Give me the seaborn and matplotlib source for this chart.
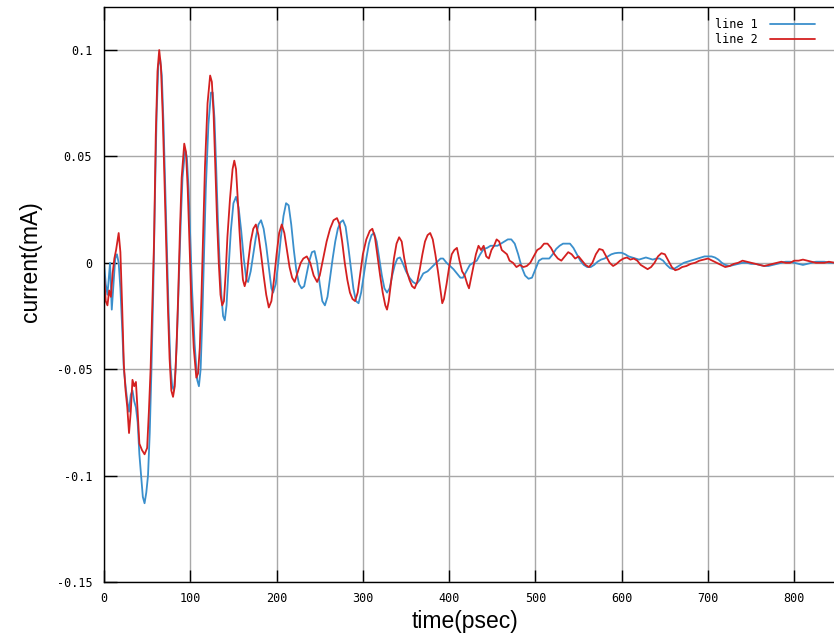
import pandas as pd
import numpy as np
import matplotlib
matplotlib.use("Agg")
import matplotlib.pyplot as plt
import seaborn as sns

# Data (time in psec, current in mA)
T1 = [0, 2, 4, 6, 7, 9, 11, 13, 15, 17, 19, 21, 23, 25, 27, 29, 31, 33, 35, 37,
      39, 41, 43, 45, 47, 49, 51, 53, 55, 57, 59, 61, 63, 65, 67, 69, 71, 73, 75, 77,
      79, 81, 83, 85, 87, 89, 91, 94, 96, 98, 100, 102, 105, 108, 110, 112, 114, 116, 118, 121,
      124, 126, 128, 130, 132, 134, 136, 138, 140, 142, 144, 147, 150, 153, 156, 159, 162, 165, 167, 170,
      173, 176, 179, 182, 185, 188, 191, 194, 196, 199, 202, 205, 208, 211, 214, 217, 220, 223, 226, 229,
      232, 235, 238, 241, 244, 247, 250, 253, 256, 259, 262, 265, 268, 271, 274, 277, 280, 283, 286, 289,
      292, 295, 298, 301, 304, 307, 310, 313, 316, 319, 322, 325, 328, 331, 334, 337, 340, 343, 346, 350,
      354, 358, 362, 366, 370, 375, 380, 385, 390, 393, 397, 401, 405, 409, 413, 416, 420, 424, 428, 432,
      436, 440, 444, 448, 452, 456, 460, 464, 468, 472, 476, 480, 484, 488, 492, 496, 500, 504, 508, 512,
      516, 520, 524, 528, 532, 536, 540, 544, 548, 552, 556, 560, 564, 568, 572, 576, 580, 584, 588, 592,
      596, 600, 604, 608, 612, 616, 620, 624, 628, 632, 636, 640, 644, 648, 652, 656, 660, 664, 668, 672,
      676, 680, 684, 688, 692, 696, 700, 704, 708, 712, 716, 720, 725, 730, 735, 740, 745, 750, 755, 760,
      765, 770, 775, 780, 785, 790, 795, 800, 805, 810, 815, 820, 825, 830, 835, 840, 847]
I1 = [0.0, -0.01, -0.015, -0.005, 0.0, -0.022, -0.01, 0.002, 0.004, 0.0, -0.012, -0.03, -0.05, -0.058, -0.065, -0.07, -0.062, -0.06, -0.065, -0.068,
      -0.075, -0.09, -0.1, -0.11, -0.113, -0.108, -0.1, -0.08, -0.05, -0.015, 0.03, 0.07, 0.093, 0.096, 0.088, 0.065, 0.035, 0.005, -0.025, -0.048,
      -0.058, -0.06, -0.05, -0.03, -0.005, 0.02, 0.04, 0.053, 0.05, 0.035, 0.012, -0.012, -0.038, -0.055, -0.058, -0.05, -0.025, 0.005, 0.035, 0.065,
      0.08, 0.08, 0.068, 0.045, 0.02, 0.0, -0.015, -0.025, -0.027, -0.02, -0.005, 0.015, 0.028, 0.031, 0.026, 0.015, 0.002, -0.008, -0.009, -0.004,
      0.004, 0.012, 0.018, 0.02, 0.016, 0.008, -0.002, -0.012, -0.014, -0.01, 0.0, 0.012, 0.022, 0.028, 0.027, 0.018, 0.006, -0.004, -0.01, -0.012,
      -0.011, -0.005, 0.001, 0.005, 0.0055, 0.0, -0.01, -0.018, -0.02, -0.016, -0.007, 0.002, 0.01, 0.016, 0.019, 0.02, 0.017, 0.008, -0.002, -0.012,
      -0.018, -0.019, -0.014, -0.006, 0.002, 0.009, 0.013, 0.014, 0.01, 0.002, -0.006, -0.012, -0.014, -0.012, -0.006, -0.001, 0.002, 0.0025, 0.0, -0.004,
      -0.007, -0.009, -0.01, -0.008, -0.005, -0.004, -0.002, 0.0, 0.002, 0.002, 0.0, -0.0015, -0.003, -0.005, -0.007, -0.007, -0.004, -0.001, 0.0, 0.001,
      0.004, 0.0065, 0.007, 0.008, 0.008, 0.008, 0.009, 0.01, 0.011, 0.011, 0.009, 0.004, -0.002, -0.006, -0.0075, -0.007, -0.003, 0.001, 0.002, 0.002,
      0.002, 0.004, 0.0065, 0.008, 0.009, 0.009, 0.009, 0.007, 0.004, 0.001, -0.001, -0.002, -0.002, -0.001, 0.0005, 0.0015, 0.002, 0.003, 0.004, 0.0045,
      0.0047, 0.0047, 0.004, 0.003, 0.0025, 0.002, 0.0015, 0.002, 0.0025, 0.002, 0.0015, 0.002, 0.002, 0.001, -0.001, -0.0025, -0.003, -0.002, -0.001, 0.0,
      0.0005, 0.001, 0.0015, 0.002, 0.0025, 0.003, 0.003, 0.003, 0.0025, 0.0015, 0.0, -0.001, -0.0015, -0.001, -0.0005, 0.0, 0.0, -0.0005, -0.0005, -0.001,
      -0.0015, -0.0015, -0.001, -0.0005, 0.0, 0.0005, 0.0005, 0.0, -0.0005, -0.001, -0.0005, 0.0, 0.0005, 0.0005, 0.0005, 0.0, 0.0]

T2 = [0, 2, 4, 6, 8, 10, 12, 14, 17, 19, 21, 23, 25, 27, 29, 31, 33, 35, 37, 39,
      41, 44, 47, 50, 52, 54, 56, 58, 60, 62, 64, 66, 68, 70, 72, 74, 76, 78, 80, 82,
      84, 86, 88, 90, 93, 95, 97, 99, 101, 104, 107, 109, 111, 113, 115, 117, 120, 123, 125, 127,
      129, 131, 133, 135, 137, 139, 141, 143, 146, 149, 151, 153, 155, 157, 159, 161, 163, 165, 167, 170,
      173, 176, 179, 182, 185, 188, 191, 194, 197, 200, 203, 206, 209, 212, 215, 218, 221, 224, 228, 231,
      235, 239, 243, 247, 250, 254, 258, 262, 266, 270, 273, 276, 279, 282, 285, 288, 291, 294, 297, 300,
      304, 308, 311, 314, 317, 320, 323, 326, 328, 330, 333, 336, 339, 342, 345, 348, 351, 354, 357, 360,
      363, 366, 369, 372, 375, 378, 381, 384, 387, 390, 392, 394, 397, 400, 403, 406, 409, 412, 415, 418,
      421, 423, 425, 428, 431, 434, 437, 440, 443, 446, 449, 452, 455, 458, 461, 464, 467, 470, 474, 478,
      482, 486, 490, 494, 498, 502, 506, 510, 514, 518, 522, 526, 530, 534, 538, 542, 546, 550, 554, 558,
      562, 566, 570, 574, 578, 582, 586, 590, 594, 598, 602, 606, 610, 614, 618, 622, 626, 630, 634, 638,
      642, 646, 650, 654, 658, 662, 666, 670, 675, 680, 685, 690, 695, 700, 705, 710, 715, 720, 725, 730,
      735, 740, 745, 750, 755, 760, 765, 770, 775, 780, 785, 790, 795, 800, 805, 810, 815, 820, 825, 830,
      835, 840, 847]
I2 = [-0.005, -0.018, -0.02, -0.013, -0.016, -0.005, 0.002, 0.006, 0.014, 0.005, -0.02, -0.048, -0.06, -0.068, -0.08, -0.07, -0.055, -0.058, -0.056, -0.07,
      -0.085, -0.088, -0.09, -0.087, -0.07, -0.05, -0.02, 0.01, 0.06, 0.09, 0.1, 0.092, 0.07, 0.04, 0.01, -0.02, -0.045, -0.06, -0.063, -0.058,
      -0.04, -0.015, 0.015, 0.04, 0.056, 0.052, 0.035, 0.01, -0.015, -0.04, -0.054, -0.052, -0.04, -0.015, 0.015, 0.045, 0.075, 0.088, 0.085, 0.07,
      0.045, 0.02, 0.0, -0.015, -0.02, -0.018, -0.005, 0.012, 0.03, 0.044, 0.048, 0.044, 0.03, 0.015, 0.002, -0.008, -0.011, -0.008, 0.0, 0.01,
      0.016, 0.018, 0.013, 0.004, -0.006, -0.015, -0.021, -0.018, -0.008, 0.004, 0.014, 0.018, 0.014, 0.006, -0.002, -0.007, -0.009, -0.005, 0.0, 0.002,
      0.003, 0.0, -0.006, -0.009, -0.006, 0.002, 0.01, 0.016, 0.02, 0.021, 0.018, 0.01, 0.0, -0.008, -0.014, -0.017, -0.018, -0.014, -0.005, 0.004,
      0.011, 0.015, 0.016, 0.012, 0.003, -0.006, -0.014, -0.02, -0.022, -0.018, -0.008, 0.002, 0.009, 0.012, 0.01, 0.002, -0.004, -0.008, -0.011, -0.012,
      -0.009, -0.003, 0.004, 0.01, 0.013, 0.014, 0.011, 0.004, -0.004, -0.013, -0.019, -0.017, -0.01, -0.002, 0.004, 0.006, 0.007, 0.001, -0.004, -0.006,
      -0.01, -0.012, -0.008, -0.002, 0.004, 0.008, 0.006, 0.008, 0.003, 0.002, 0.006, 0.008, 0.011, 0.01, 0.006, 0.005, 0.004, 0.001, 0.0, -0.002,
      -0.001, -0.002, -0.0015, 0.0, 0.003, 0.006, 0.007, 0.009, 0.009, 0.007, 0.004, 0.002, 0.001, 0.003, 0.005, 0.004, 0.002, 0.003, 0.001, -0.001,
      -0.002, 0.0, 0.004, 0.0065, 0.006, 0.003, 0.0, -0.0015, -0.0005, 0.001, 0.002, 0.0025, 0.0015, 0.002, 0.001, -0.001, -0.002, -0.003, -0.002, 0.0,
      0.003, 0.0045, 0.004, 0.001, -0.002, -0.0035, -0.003, -0.002, -0.0015, -0.0005, 0.0, 0.001, 0.0015, 0.002, 0.001, 0.0, -0.001, -0.002, -0.0015, -0.0005,
      0.0, 0.001, 0.0005, 0.0, -0.0005, -0.001, -0.0015, -0.001, -0.0005, 0.0, 0.0005, 0.0, 0.0, 0.001, 0.001, 0.0015, 0.001, 0.0005, 0.0, 0.0,
      0.0, 0.0005, 0.0]

XTICKS = [0, 100, 200, 300, 400, 500, 600, 700, 800]
YTICKS = [0.1, 0.05, 0, -0.05, -0.1, -0.15]
YTICK_LABELS = ["0.1", "0.05", "0", "-0.05", "-0.1", "-0.15"]

if __name__ == "__main__":
    df = pd.concat([
        pd.DataFrame({"time": T1, "current": I1, "series": "line 1"}),
        pd.DataFrame({"time": T2, "current": I2, "series": "line 2"}),
    ], ignore_index=True)

    sns.set_style("ticks")
    mono = ["DejaVu Sans Mono"]
    sans = ["Liberation Sans", "DejaVu Sans"]

    fig = plt.figure(figsize=(8.34, 6.44), dpi=100)
    ax = fig.add_axes([0.1247, 0.0963, 0.8753, 0.8928])

    sns.lineplot(data=df, x="time", y="current", hue="series",
                 palette={"line 1": "#3a8fcc", "line 2": "#d42020"},
                 estimator=None, sort=False, linewidth=1.3, ax=ax)

    ax.set_xlim(0, 846)
    ax.set_ylim(-0.15, 0.1202)
    ax.set_xticks(XTICKS)
    ax.set_xticklabels([str(v) for v in XTICKS], family=mono, fontsize=8.5, color="black")
    ax.set_yticks(YTICKS)
    ax.set_yticklabels(YTICK_LABELS, family=mono, fontsize=8.5, color="black")
    ax.grid(True, color="#a8a8a8", linewidth=1.0)
    ax.set_axisbelow(True)

    ax.tick_params(direction="in", length=9, width=1, top=True, right=False, color="black")
    ax.tick_params(axis="y", pad=8.5)
    ax.tick_params(axis="x", pad=7)
    for side in ["left", "bottom", "top"]:
        ax.spines[side].set_color("black")
        ax.spines[side].set_linewidth(1.0)
    ax.spines["right"].set_visible(False)

    ax.set_xlabel("time(psec)", family=sans, fontsize=16.5, color="black")
    ax.set_ylabel("current(mA)", family=sans, fontsize=16.5, color="black")
    ax.xaxis.set_label_coords(0.494, -0.048)
    ax.yaxis.set_label_coords(-0.085, 0.557)

    handles, labels = ax.get_legend_handles_labels()
    leg = ax.legend(handles, labels, loc="upper right", bbox_to_anchor=(0.985, 0.995),
                    frameon=False, markerfirst=False, handlelength=3.8, handletextpad=1.0,
                    labelspacing=0.15, borderpad=0.2,
                    prop={"family": "DejaVu Sans Mono", "size": 8.5})
    for txt in leg.get_texts():
        txt.set_color("black")

    fig.savefig("out.png", dpi=100)
